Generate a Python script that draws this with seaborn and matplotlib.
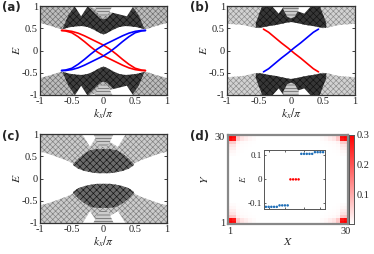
import numpy as np
import pandas as pd
import matplotlib
matplotlib.use('Agg')
import matplotlib.pyplot as plt
import seaborn as sns
from matplotlib.colors import LinearSegmentedColormap

# ---------------- data ----------------
# half grid in k_x/pi (k<=0), the other half is the mirror image
k_half = [-1, -0.9, -0.8, -0.7, -0.65, -0.6, -0.5, -0.4, -0.3, -0.2, -0.1, 0]

# lower edge of the upper bulk continuum (lower bulk is the mirror in E)
gap_a = [0.62, 0.58, 0.54, 0.49, 0.47, 0.50, 0.53, 0.55, 0.55, 0.50, 0.42, 0.36]
gap_b = [0.60, 0.59, 0.58, 0.56, 0.54, 0.52, 0.50, 0.53, 0.56, 0.58, 0.62, 0.64]
gap_c = [0.60, 0.57, 0.52, 0.47, 0.44, 0.42, 0.35, 0.25, 0.18, 0.14, 0.12, 0.12]

# dense part of the bulk near the zone centre: k, lower, upper
dark_a_k = [-0.64, -0.55, -0.45, -0.35, -0.25, -0.15, -0.05, 0.0]
dark_a_lo = [0.48, 0.52, 0.54, 0.55, 0.53, 0.47, 0.39, 0.36]
dark_a_hi = [0.50, 0.80, 1.0, 1.0, 1.0, 0.86, 0.72, 0.70]

dark_b_k = [-0.55, -0.45, -0.35, -0.25, -0.15, -0.05, 0.0]
dark_b_lo = [0.51, 0.52, 0.55, 0.57, 0.60, 0.63, 0.64]
dark_b_hi = [0.62, 1.0, 1.0, 1.0, 1.0, 1.0, 1.0]

dark_c_k = [-0.48, -0.4, -0.3, -0.2, -0.1, 0.0]
dark_c_lo = [0.30, 0.22, 0.17, 0.14, 0.12, 0.12]
dark_c_hi = [0.32, 0.44, 0.56, 0.64, 0.66, 0.66]

# white notches at the top of the bulk: k, apex energy
notch_a_k = [-0.46, -0.36, -0.26]
notch_a_lo = [1.0, 0.78, 1.0]
notch_b_k = [-0.3, -0.2, -0.12]
notch_b_lo = [1.0, 0.84, 1.0]
notch_c_k = [-0.34, -0.22, -0.1]
notch_c_lo = [1.0, 0.72, 1.0]

# lighter dome at k=0 on top of the bulk
dome_a_k = [-0.14, -0.07, 0.0]
dome_a_lo = [1.0, 0.80, 0.76]
dome_b_k = [-0.12, -0.06, 0.0]
dome_b_lo = [0.92, 0.76, 0.72]
dome_c_k = [-0.16, -0.08, 0.0]
dome_c_lo = [1.0, 0.76, 0.70]

# edge states (red branches, blue is the mirror k -> -k)
edge_a_k = [-0.66, -0.6, -0.5, -0.4, -0.3, -0.2, -0.1, 0, 0.1, 0.2, 0.3, 0.4, 0.5, 0.6, 0.66]
edge_a_r1 = [0.45, 0.45, 0.43, 0.39, 0.33, 0.26, 0.19, 0.12, 0.03, -0.08, -0.20, -0.31, -0.40, -0.44, -0.45]
edge_a_r2 = [0.45, 0.44, 0.40, 0.31, 0.20, 0.08, -0.03, -0.12, -0.19, -0.26, -0.33, -0.39, -0.43, -0.45, -0.45]

edge_b_k = [-0.43, -0.35, -0.25, -0.15, -0.05, 0, 0.05, 0.15, 0.25, 0.35, 0.43]
edge_b_r = [0.48, 0.41, 0.29, 0.17, 0.06, 0.0, -0.06, -0.17, -0.29, -0.41, -0.48]

# corner density profile along an edge for panel (d)
corner_profile = [0.55, 0.52, 0.12, 0.06, 0.04, 0.02, 0.01]

# inset eigenvalues
inset_idx = list(range(1, 23))
inset_E = [-0.114] * 5 + [-0.108] * 4 + [0.0] * 4 + [0.106] * 5 + [0.113] * 4
inset_col = ['b'] * 9 + ['r'] * 4 + ['b'] * 9

# ---------------- style ----------------
sns.set_theme(style='ticks')
plt.rcParams['font.family'] = ['Liberation Serif', 'DejaVu Serif']
plt.rcParams['mathtext.fontset'] = 'stix'
plt.rcParams['font.size'] = 7.5
plt.rcParams['xtick.labelsize'] = 7.5
plt.rcParams['ytick.labelsize'] = 7.5
plt.rcParams['hatch.linewidth'] = 0.45
plt.rcParams['axes.linewidth'] = 0.9


def full(kh, vals):
    k = list(kh) + [-x for x in kh[::-1]][1:]
    v = list(vals) + list(vals[::-1])[1:]
    return np.array(k), np.array(v)


def band_panel(ax, gap, dk, dlo, dhi, nk, nlo, dmk, dmlo, base_col, base_hatch, dark_col):
    k, g = full(k_half, gap)
    kd, lo = full(dk, dlo)
    _, hi = full(dk, dhi)
    kn, nl = full(nk, nlo)
    km, ml = full(dmk, dmlo)
    for s in (1, -1):
        ax.fill_between(k, s * g, s * 1.0, facecolor=base_col, edgecolor=base_hatch,
                        hatch='xxxxxx', linewidth=0)
        ax.fill_between(kd, s * lo, s * hi, facecolor=dark_col, edgecolor='#111111',
                        hatch='xxxxx', linewidth=0)
        ax.fill_between(kn, s * nl, s * 1.0, color='white', linewidth=0)
        ax.fill_between(km, s * ml, s * 1.0, facecolor='#cccccc', edgecolor='#555555',
                        hatch='-----', linewidth=0)
    ax.set_xlim(-1, 1)
    ax.set_ylim(-1, 1)
    ax.set_xticks([-1, -0.5, 0, 0.5, 1])
    ax.set_xticklabels(['-1', '-0.5', '0', '0.5', '1'])
    ax.set_yticks([-1, -0.5, 0, 0.5, 1])
    ax.set_yticklabels(['-1', '-0.5', '0', '0.5', '1'])
    ax.tick_params(direction='in', length=2, width=0.6, pad=1.5, top=True, right=True,
                   colors='#222222', labelcolor='#222222')
    for sp in ax.spines.values():
        sp.set_color('#333333')


def band_labels(ax):
    ax.set_xlabel(r'$k_x/\pi$', fontsize=8.5, labelpad=0)
    ax.set_ylabel(r'$E$', fontsize=8.5, labelpad=-1)


fig = plt.figure(figsize=(3.74, 2.54), dpi=100)
W, H = 374, 254


def px_axes(x0, y0, x1, y1):
    return fig.add_axes([x0 / W, 1 - y1 / H, (x1 - x0) / W, (y1 - y0) / H])


ax_a = px_axes(40, 6, 167, 95)
ax_b = px_axes(227, 6, 355, 95)
ax_c = px_axes(40, 134, 167, 223)
ax_d = px_axes(228, 135, 348, 224)
ax_cb = px_axes(349, 135, 354, 224)
ax_in = px_axes(264, 150, 325, 209)

band_panel(ax_a, gap_a, dark_a_k, dark_a_lo, dark_a_hi, notch_a_k, notch_a_lo,
           dome_a_k, dome_a_lo, '#bdbdbd', '#6e6e6e', '#3e3e3e')
band_panel(ax_b, gap_b, dark_b_k, dark_b_lo, dark_b_hi, notch_b_k, notch_b_lo,
           dome_b_k, dome_b_lo, '#d2d2d2', '#8a8a8a', '#363636')
band_panel(ax_c, gap_c, dark_c_k, dark_c_lo, dark_c_hi, notch_c_k, notch_c_lo,
           dome_c_k, dome_c_lo, '#cbcbcb', '#7e7e7e', '#6a6a6a')

# edge states
df_a = pd.DataFrame({'k': edge_a_k * 4,
                     'E': edge_a_r1 + edge_a_r2 + edge_a_r1[::-1] + edge_a_r2[::-1],
                     'branch': ['r1'] * 15 + ['r2'] * 15 + ['b1'] * 15 + ['b2'] * 15})
sns.lineplot(data=df_a, x='k', y='E', hue='branch', units='branch', estimator=None,
             palette={'r1': 'red', 'r2': 'red', 'b1': 'blue', 'b2': 'blue'},
             linewidth=1.2, legend=False, ax=ax_a)
df_b = pd.DataFrame({'k': edge_b_k * 2,
                     'E': edge_b_r + edge_b_r[::-1],
                     'branch': ['r'] * 11 + ['b'] * 11})
sns.lineplot(data=df_b, x='k', y='E', hue='branch', units='branch', estimator=None,
             palette={'r': 'red', 'b': 'blue'}, linewidth=1.2, legend=False, ax=ax_b)
for ax in (ax_a, ax_b, ax_c):
    band_labels(ax)

# panel (d): corner state density
N = 30
p = np.zeros(N)
p[:len(corner_profile)] = corner_profile
prof = np.outer(p, p)
rho = prof + prof[::-1, :] + prof[:, ::-1] + prof[::-1, ::-1]
cmap = LinearSegmentedColormap.from_list('wr', ['white', '#ff0000'])
sns.heatmap(rho[::-1], cmap=cmap, vmin=0, vmax=0.3, ax=ax_d, cbar_ax=ax_cb,
            xticklabels=False, yticklabels=False)
ax_d.set_xticks([0.5, 29.5])
ax_d.set_xticklabels(['1', '30'], rotation=0)
ax_d.set_yticks([0.5, 29.5])
ax_d.set_yticklabels(['30', '1'], rotation=0)
ax_d.tick_params(length=0, pad=2)
for sp in ax_d.spines.values():
    sp.set_visible(True)
    sp.set_color('#888888')
    sp.set_linewidth(1.6)
ax_d.set_xlabel(r'$X$', fontsize=8.5, labelpad=0)
ax_d.set_ylabel(r'$Y$', fontsize=8.5, labelpad=3)
ax_cb.set_yticks([0.1, 0.2, 0.3])
ax_cb.set_yticklabels(['0.1', '0.2', '0.3'])
ax_cb.tick_params(direction='in', length=2, width=0.5, pad=2, labelsize=7.5)
for sp in ax_cb.spines.values():
    sp.set_visible(True)
    sp.set_color('#555555')
    sp.set_linewidth(0.6)

# inset
df_in = pd.DataFrame({'n': inset_idx, 'E': inset_E, 'c': inset_col})
sns.scatterplot(data=df_in, x='n', y='E', hue='c', palette={'b': '#1f6fb8', 'r': '#ff0000'},
                s=3.2, marker='o', linewidth=0, legend=False, ax=ax_in)
ax_in.set_xlim(0.3, 22.7)
ax_in.set_ylim(-0.123, 0.122)
ax_in.set_xticks([2, 8, 15, 21])
ax_in.set_xticklabels([])
ax_in.set_yticks([-0.1, 0, 0.1])
ax_in.set_yticklabels(['-0.1', '0', '0.1'], fontsize=6.5)
ax_in.tick_params(direction='in', length=1.5, width=0.5, pad=1.5, top=True, right=True)
ax_in.set_xlabel('')
ax_in.set_ylabel(r'$E$', fontsize=6.5, labelpad=0)
for sp in ax_in.spines.values():
    sp.set_color('#555555')
    sp.set_linewidth(0.7)

for lab, (x, y) in zip(['(a)', '(b)', '(c)', '(d)'],
                       [(2, 11), (190, 11), (2, 140), (190, 140)]):
    fig.text(x / W, 1 - y / H, lab, family=['DejaVu Sans'], fontweight='bold', fontsize=8.5)

fig.savefig('out.png', dpi=100)
